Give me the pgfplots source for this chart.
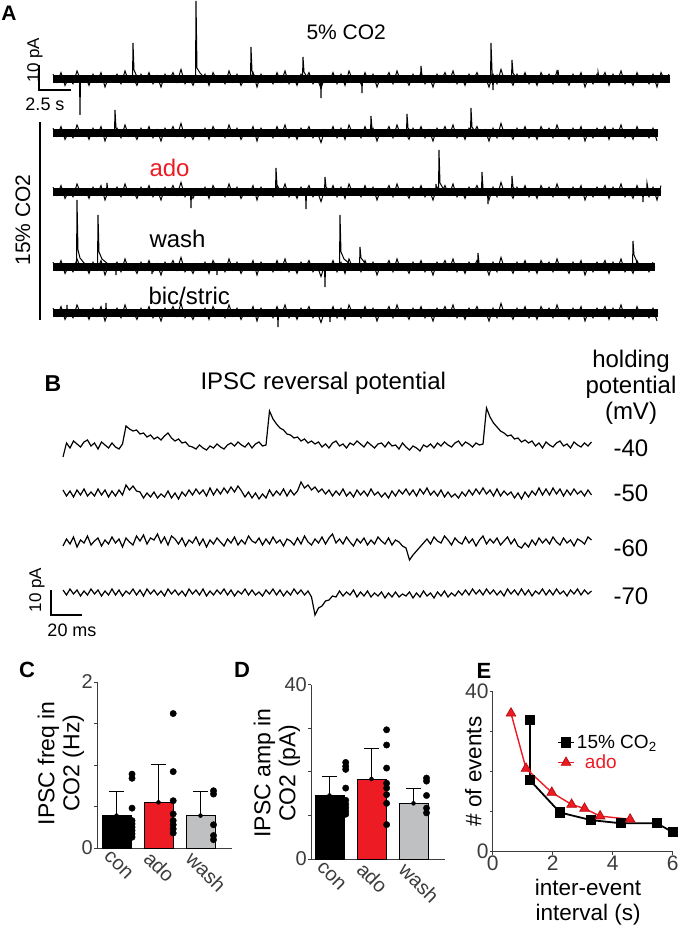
\documentclass[border=0pt]{standalone}
\usepackage{fontspec}
\setmainfont{Liberation Sans}
\usepackage{pgfplots}
\usepackage{pgfplotstable}
\pgfplotsset{compat=1.18}
\newcommand{\fs}[1]{\fontsize{#1}{#1}\selectfont}
\definecolor{myred}{RGB}{237,28,36}
\definecolor{dred}{RGB}{185,15,20}
\definecolor{mygray}{RGB}{190,192,194}
\definecolor{axgray}{RGB}{60,60,60}

% fuzz of the noise band of the panel A traces (px, step 4 px)
\pgfplotstableread{
v
3
-2
4
-4
1
-3
5
-1
2
-4
3
-2
4
-5
2
-1
3
-3
5
-2
1
-4
3
-2
4
-3
2
-5
3
-1
4
-2
6
-3
1
-4
2
-2
3
-4
4
-1
2
-3
5
-2
3
-4
1
-2
4
-5
3
-1
2
-3
4
-2
5
-3
2
-4
3
-1
4
-3
1
-6
2
-2
4
-3
3
-4
5
-1
2
-3
4
-2
3
-5
2
-1
4
-3
5
-2
1
-4
3
-2
4
-3
2
-5
3
-1
4
-2
5
-3
2
-4
3
-1
4
-2
2
-5
3
-3
6
-2
1
-4
3
-2
4
-3
2
-4
4
-1
3
-3
5
-2
1
-4
3
-2
4
-5
2
-3
3
-1
4
-4
3
-2
5
-3
1
-4
4
-2
2
-3
3
-5
4
-1
3
}\fuzz

% panel B traces (px above baseline, step 3.5 px)
\pgfplotstableread{
v
-12
2
-3
4
1
-2
3
5
-1
2
-4
3
0
-3
2
-2
-4
1
19
16
14
15
11
12
8
10
6
8
5
9
12
7
4
6
2
3
-1
-2
-4
0
-3
-5
-1
-3
1
-2
-4
0
2
-1
3
0
-2
2
-3
1
3
-1
0
34
26
21
17
15
11
10
7
8
4
6
2
4
1
3
-2
1
-3
2
4
-1
1
-3
2
0
4
1
-2
3
0
-3
1
2
-2
3
-1
0
-4
2
-2
-5
-1
-3
-6
0
-2
1
-3
2
-1
3
0
-2
2
4
-1
3
1
-2
2
0
1
37
28
22
18
14
12
9
10
6
7
3
5
2
4
-1
2
-3
3
0
-2
2
4
-1
1
-3
3
0
-2
2
-1
3
}\tBa

\pgfplotstableread{
v
3
-3
2
-4
3
-2
4
-3
1
-3
4
-2
3
-4
2
-3
3
-2
8
3
7
2
1
-5
0
-4
1
-5
-1
-4
2
-5
0
-6
1
-3
3
-2
4
-1
3
-3
5
-2
4
-1
5
0
6
1
7
2
-4
1
-5
0
-6
-1
-5
3
-3
2
-2
4
-3
3
-2
2
11
5
8
3
6
1
4
-1
3
-3
2
-2
4
-3
1
-4
3
-2
2
-3
4
-2
1
-4
0
-5
2
-3
3
-1
4
-2
3
-3
4
-1
5
-2
2
-3
3
-4
1
-4
-1
-5
1
-3
3
-2
4
-1
5
-1
3
-3
4
-3
2
-2
1
-5
0
-6
1
-4
2
-2
5
-2
4
-2
5
-1
4
-3
3
-2
4
-1
2
-3
3
-2
}\tBb

\pgfplotstableread{
v
-4
3
-2
5
-5
2
-1
6
-3
1
4
-4
2
-2
5
-1
3
-5
4
0
-3
6
1
7
-2
4
2
8
-1
5
-3
6
3
-2
4
-4
2
-1
5
-3
3
-5
2
-2
4
0
-4
3
-1
5
-3
2
-2
6
1
-1
4
-3
3
-2
5
-1
2
-4
3
1
-3
4
-2
6
0
-3
3
-1
5
-2
4
8
-1
3
-2
5
0
-4
3
-1
4
-3
2
-2
5
1
-2
4
-3
2
0
-4
-6
-18
-13
-9
-5
-1
3
-2
5
1
-1
6
2
-3
4
0
-2
5
-1
3
-4
2
6
-2
3
-1
4
-3
1
5
-2
3
-4
-6
-1
-5
2
-3
4
-1
3
-2
5
0
-3
4
-1
2
-4
3
1
-2
5
2
}\tBc

\pgfplotstableread{
v
3
-2
4
-1
3
-3
2
-2
4
-1
3
-3
2
-2
4
-2
3
-3
2
-1
4
-2
3
-3
4
-1
3
-2
2
-3
4
-1
3
-2
2
-3
4
-1
3
-2
4
-3
2
-2
3
-1
4
-2
3
-3
2
-1
4
-2
3
-2
1
-3
3
-1
4
-2
3
-3
2
-2
4
-1
3
-2
2
-4
-22
-15
-13
-8
-7
-3
-4
2
-3
1
-2
3
-4
1
-3
2
-4
0
-3
1
-5
0
-4
1
-4
-1
-3
1
-5
0
-4
2
-3
0
-5
1
-3
2
-4
0
-3
2
-2
3
-2
4
-1
3
-2
4
-1
3
-2
2
-3
4
-1
3
-2
4
-2
3
-3
2
-1
4
-2
3
-2
4
-1
2
-3
3
-1
4
-2
3
-1
2
}\tBd

\begin{document}
\begin{tikzpicture}
\useasboundingbox (0,0) rectangle (682pt,926pt);

% ---------- overlay axis in pixel units: panels A and B ----------
\begin{axis}[at={(0pt,0pt)}, anchor=south west, scale only axis,
  width=682pt, height=926pt, xmin=0, xmax=682, ymin=-926, ymax=0,
  hide axis, clip=false]

% trace 1 (5% CO2)
\addplot[black, line width=7.5pt] coordinates {(53,-79)(670,-79)};
\addplot[black, line width=1pt] table[x index=0, y index=0, x expr=53+4*\coordindex, y expr=1.6*\thisrow{v}-79] {\fuzz};
\addplot[black, line width=1pt] coordinates {(53,-79)
 (79.5,-79)(80,-115)(80.5,-79)
 (132.5,-79)(133,-43)(134,-70)(138,-79)
 (195.5,-79)(196,-1)(197,-68)(200,-73)(206,-79)
 (250.5,-79)(251,-47)(252,-71)(256,-79)
 (302.5,-79)(303,-57)(304,-72)(308,-79)
 (320.5,-79)(321,-98)(321.5,-79)
 (361.5,-79)(362,-93)(362.5,-79)
 (420.5,-79)(421,-66)(422,-76)(424,-79)
 (490.5,-79)(491,-43)(492,-70)(493,-90)(493.5,-79)(497,-75)(502,-79)
 (511.5,-79)(512,-60)(513,-73)(517,-79)
 (557.5,-79)(558,-70)(559,-79)
 (597.5,-79)(598,-72)(599,-79)
 (670,-79)};

% trace 2
\addplot[black, line width=7.5pt] coordinates {(53,-133)(658,-133)};
\addplot[black, line width=1pt, skip coords between index={152}{160}] table[x index=0, y index=0, x expr=53+4*\coordindex, y expr=1.6*\thisrow{v}-133] {\fuzz};
\addplot[black, line width=1pt] coordinates {(53,-133)
 (114.5,-133)(115,-110)(116,-128)(120,-133)
 (370.5,-133)(371,-116)(372,-129)(375,-133)
 (406.5,-133)(407,-114)(408,-128)(412,-133)
 (470.5,-133)(471,-108)(472,-127)(476,-133)
 (658,-133)};

% trace 3 (ado)
\addplot[black, line width=7.5pt] coordinates {(53,-192)(661,-192)};
\addplot[black, line width=1pt, skip coords between index={153}{160}] table[x index=0, y index=0, x expr=53+4*\coordindex, y expr=1.6*\thisrow{v}-192] {\fuzz};
\addplot[black, line width=1pt] coordinates {(53,-192)
 (106.5,-192)(107,-183)(108,-192)
 (190.5,-192)(191,-208)(191.5,-192)
 (275.5,-192)(276,-168)(277,-185)(281,-192)
 (305.5,-192)(306,-209)(306.5,-192)
 (324.5,-192)(325,-177)(326,-187)(330,-192)
 (435.5,-192)(436,-184)(437,-192)
 (438.5,-192)(439,-150)(440,-183)(444,-190)(448,-192)
 (481.5,-192)(482,-172)(483,-188)(486,-192)
 (487.5,-192)(488,-204)(488.5,-192)
 (511.5,-192)(512,-176)(513,-187)(517,-192)
 (642.5,-192)(643,-202)(643.5,-192)
 (646.5,-192)(647,-183)(648,-189)(651,-192)
 (661,-192)};

% trace 4 (wash)
\addplot[black, line width=7.5pt] coordinates {(53,-267)(655,-267)};
\addplot[black, line width=1pt, skip coords between index={151}{160}] table[x index=0, y index=0, x expr=53+4*\coordindex, y expr=1.6*\thisrow{v}-267] {\fuzz};
\addplot[black, line width=1pt] coordinates {(53,-267)
 (76.5,-267)(77,-200)(78,-250)(80,-258)(84,-263)(90,-267)
 (97.5,-267)(98,-215)(99,-252)(102,-259)(108,-264)(115,-267)
 (115.5,-267)(116,-275)(116.5,-267)
 (151.5,-267)(152,-274)(152.5,-267)
 (216.5,-267)(217,-275)(217.5,-267)
 (324.5,-267)(325,-287)(325.5,-267)
 (339.5,-267)(340,-215)(341,-252)(344,-259)(350,-264)(357,-267)
 (359.5,-267)(360,-247)(361,-258)(365,-263)(372,-267)
 (477.5,-267)(478,-253)(479,-263)(482,-267)
 (632.5,-267)(633,-241)(634,-255)(637,-262)(642,-267)
 (655,-267)};

% trace 5 (bic/stric)
\addplot[black, line width=7.5pt] coordinates {(53,-313)(658,-313)};
\addplot[black, line width=1pt, skip coords between index={152}{160}] table[x index=0, y index=0, x expr=53+4*\coordindex, y expr=1.6*\thisrow{v}-313] {\fuzz};
\addplot[black, line width=1pt] coordinates {(53,-313)
 (66.5,-313)(67,-305)(67.5,-313)
 (105.5,-313)(106,-303)(106.5,-313)
 (277.5,-313)(278,-327)(278.5,-313)
 (329.5,-313)(330,-322)(330.5,-313)
 (658,-313)};

% scale bars and bracket, panel A
\addplot[black, line width=1.2pt] coordinates {(39,-65)(39,-90)(71,-90)};
\addplot[black, line width=1.2pt] coordinates {(40,-122)(40,-320)};

% panel B traces
\addplot[black, line width=1.2pt] table[x index=0, y index=0, x expr=63+3.5*\coordindex, y expr=\thisrow{v}-445] {\tBa};
\addplot[black, line width=1.2pt] table[x index=0, y index=0, x expr=63+3.5*\coordindex, y expr=\thisrow{v}-493] {\tBb};
\addplot[black, line width=1.2pt] table[x index=0, y index=0, x expr=63+3.5*\coordindex, y expr=\thisrow{v}-542] {\tBc};
\addplot[black, line width=1.2pt] table[x index=0, y index=0, x expr=63+3.5*\coordindex, y expr=\thisrow{v}-593] {\tBd};
\addplot[black, line width=1.2pt] coordinates {(51,-590)(51,-615)(82,-615)};

% texts, panel A
\node[font=\bfseries\fs{21}] at (9,-13) {A};
\node[anchor=base west, font=\fs{21}] at (303,-40) {5\% CO2};
\node[rotate=90, anchor=base, font=\fs{17}] at (39,-60) {10 pA};
\node[font=\fs{18}] at (45,-104) {2.5 s};
\node[rotate=90, anchor=base, font=\fs{21}] at (30,-220) {15\% CO2};
\node[anchor=base west, font=\fs{24}, text=myred] at (146,-177) {ado};
\node[anchor=base west, font=\fs{24}] at (146,-248) {wash};
\node[anchor=base west, font=\fs{24}] at (145,-305) {bic/stric};
% texts, panel B
\node[font=\bfseries\fs{23}] at (53,-384) {B};
\node[anchor=base west, font=\fs{24}] at (197,-390) {IPSC reversal potential};
\node[anchor=base, font=\fs{24}] at (631,-368) {holding};
\node[anchor=base, font=\fs{24}] at (631,-394) {potential};
\node[anchor=base, font=\fs{24}] at (631,-420) {(mV)};
\node[anchor=base west, font=\fs{24}] at (610,-457) {-40};
\node[anchor=base west, font=\fs{24}] at (610,-502) {-50};
\node[anchor=base west, font=\fs{24}] at (610,-557) {-60};
\node[anchor=base west, font=\fs{24}] at (610,-605) {-70};
\node[rotate=90, anchor=base, font=\fs{17}] at (41,-590) {10 pA};
\node[anchor=base, font=\fs{18}] at (72,-637) {20 ms};
% panel letters
\node[font=\bfseries\fs{22}] at (27,-670) {C};
\node[font=\bfseries\fs{22}] at (242,-670) {D};
\node[font=\bfseries\fs{22}] at (484,-671) {E};
\end{axis}

% ---------- panel C ----------
\begin{axis}[at={(97pt,78pt)}, anchor=south west, scale only axis,
  width=135pt, height=166pt, xmin=-0.464, xmax=2.75, ymin=0, ymax=2,
  axis x line*=bottom, axis y line*=left, axis line style={-, line width=1pt, axgray},
  xtick={0,1,2}, xticklabels={con,ado,wash}, x tick style={draw=none},
  ytick={0,0.5,1,1.5,2}, yticklabels={0,,,,2},
  tick align=outside, major tick length=3pt, y tick style={line width=1pt, axgray},
  /pgf/number format/assume math mode=true,
  tick label style={font=\fs{20}, text=axgray},
  xticklabel style={rotate=-45, anchor=north west, inner sep=0pt, xshift=-5pt, yshift=-3pt},
  yticklabel style={inner sep=1pt},
  ylabel={IPSC freq in\\CO2 (Hz)},
  ylabel style={align=center, font=\fontsize{23}{25}\selectfont, at={(axis description cs:-0.267,0.51)}, anchor=center},
  clip=false]
\addplot[ybar, bar width=29pt, bar shift=0pt, fill=black, draw=black, line width=0.8pt] coordinates {(0,0.39)};
\addplot[ybar, bar width=29pt, bar shift=0pt, fill=myred, draw=black, line width=0.8pt] coordinates {(1,0.55)};
\addplot[ybar, bar width=29pt, bar shift=0pt, fill=mygray, draw=black, line width=0.8pt] coordinates {(2,0.39)};
\addplot[only marks, mark=none, draw=black, error bars/.cd, y dir=plus, y explicit,
  error bar style={line width=1pt, black},
  error mark options={rotate=90, mark size=7.5pt, line width=1pt, black}]
  coordinates {(0,0.39) +- (0,0.29) (1,0.55) +- (0,0.46) (2,0.39) +- (0,0.29)};
\addplot[only marks, mark=*, mark size=3.2pt, black] coordinates {
 (0.37,0.89)(0.37,0.84)(0.37,0.48)(0.37,0.33)(0.37,0.29)(0.37,0.25)(0.37,0.21)(0.37,0.17)(0.37,0.13)
 (1.35,1.62)(1.35,0.92)(1.35,0.57)(1.35,0.41)(1.35,0.33)(1.35,0.28)(1.35,0.23)(1.35,0.18)
 (2.31,0.69)(2.31,0.65)(2.31,0.28)(2.31,0.15)(2.31,0.10)};
\end{axis}

% ---------- panel D ----------
\begin{axis}[at={(311pt,67pt)}, anchor=south west, scale only axis,
  width=134pt, height=174pt, xmin=-0.44, xmax=2.75, ymin=0, ymax=40,
  axis x line*=bottom, axis y line*=left, axis line style={-, line width=1pt, axgray},
  xtick={0,1,2}, xticklabels={con,ado,wash}, x tick style={draw=none},
  ytick={0,10,20,30,40}, yticklabels={0,,,,40},
  tick align=outside, major tick length=3pt, y tick style={line width=1pt, axgray},
  /pgf/number format/assume math mode=true,
  tick label style={font=\fs{20}, text=axgray},
  xticklabel style={rotate=-45, anchor=north west, inner sep=0pt, xshift=-5pt, yshift=-3pt},
  yticklabel style={inner sep=1pt},
  ylabel={IPSC amp in\\CO2 (pA)},
  ylabel style={align=center, font=\fontsize{23}{25}\selectfont, at={(axis description cs:-0.254,0.494)}, anchor=center},
  clip=false]
\addplot[ybar, bar width=29pt, bar shift=0pt, fill=black, draw=black, line width=0.8pt] coordinates {(0,14.6)};
\addplot[ybar, bar width=29pt, bar shift=0pt, fill=myred, draw=black, line width=0.8pt] coordinates {(1,18.4)};
\addplot[ybar, bar width=29pt, bar shift=0pt, fill=mygray, draw=black, line width=0.8pt] coordinates {(2,12.8)};
\addplot[only marks, mark=none, draw=black, error bars/.cd, y dir=plus, y explicit,
  error bar style={line width=1pt, black},
  error mark options={rotate=90, mark size=7.5pt, line width=1pt, black}]
  coordinates {(0,14.6) +- (0,4.4) (1,18.4) +- (0,6.9) (2,12.8) +- (0,3.3)};
\addplot[only marks, mark=*, mark size=3.2pt, black] coordinates {
 (0.386,22.2)(0.386,21.3)(0.386,20.6)(0.386,16.3)(0.386,13.5)(0.386,12.6)(0.386,11.8)(0.386,11.0)(0.386,10.3)
 (1.36,29.7)(1.36,26.2)(1.36,20.9)(1.36,17.4)(1.36,16.3)(1.36,14.8)(1.36,12.8)(1.36,7.9)
 (2.31,18.6)(2.31,17.9)(2.31,14.6)(2.31,11.7)(2.31,10.6)};
\end{axis}

% ---------- panel E ----------
\begin{axis}[at={(492.7pt,74.3pt)}, anchor=south west, scale only axis,
  width=180pt, height=160pt, xmin=0, xmax=6, ymin=0, ymax=40,
  axis x line*=bottom, axis y line*=left, axis line style={-, line width=1pt, axgray},
  xtick={0,2,4,6}, ytick={0,10,20,30,40}, yticklabels={0,,,,40},
  tick align=outside, major tick length=3pt, tick style={line width=1pt, axgray},
  /pgf/number format/assume math mode=true,
  tick label style={font=\fs{21}, text=axgray},
  xticklabel style={inner sep=1pt}, yticklabel style={inner sep=1pt},
  xlabel={inter-event\\interval (s)},
  xlabel style={align=center, font=\fontsize{22.5}{25}\selectfont, at={(axis description cs:0.53,-0.15)}, anchor=north},
  ylabel={\# of events},
  ylabel style={font=\fs{22.5}, at={(axis description cs:-0.107,0.5)}, anchor=center},
  legend style={draw=none, fill=none, at={(axis description cs:0.357,0.742)}, anchor=north west,
    font=\fs{19}, inner sep=0pt, row sep=1pt, cells={anchor=west}},
  legend image code/.code={\draw[mark repeat=2,mark phase=2,#1] plot coordinates {(0pt,0pt) (8pt,0pt) (16pt,0pt)};},
  clip=false]
\addplot[black, line width=1.8pt, mark=square*, mark size=4.2pt, mark options={solid}] coordinates {
 (1.24,32.9)(1.24,17.9)(2.24,9.8)(3.28,7.9)(4.28,7.1)(5.47,7.1)(6.0,4.9)};
\addlegendentry{15\% CO\textsubscript{2}}
\addplot[myred, line width=1.4pt, mark=triangle*, mark size=5.5pt, mark options={solid, fill=myred, draw=dred, line width=0.8pt}] coordinates {
 (0.61,34.6)(1.11,20.8)(1.97,14.8)(2.63,11.8)(3.06,10.8)(3.58,8.9)(4.58,8.1)};
\addlegendentry{\hspace*{8pt}\textcolor{myred}{ado}}
\end{axis}
\end{tikzpicture}
\end{document}
